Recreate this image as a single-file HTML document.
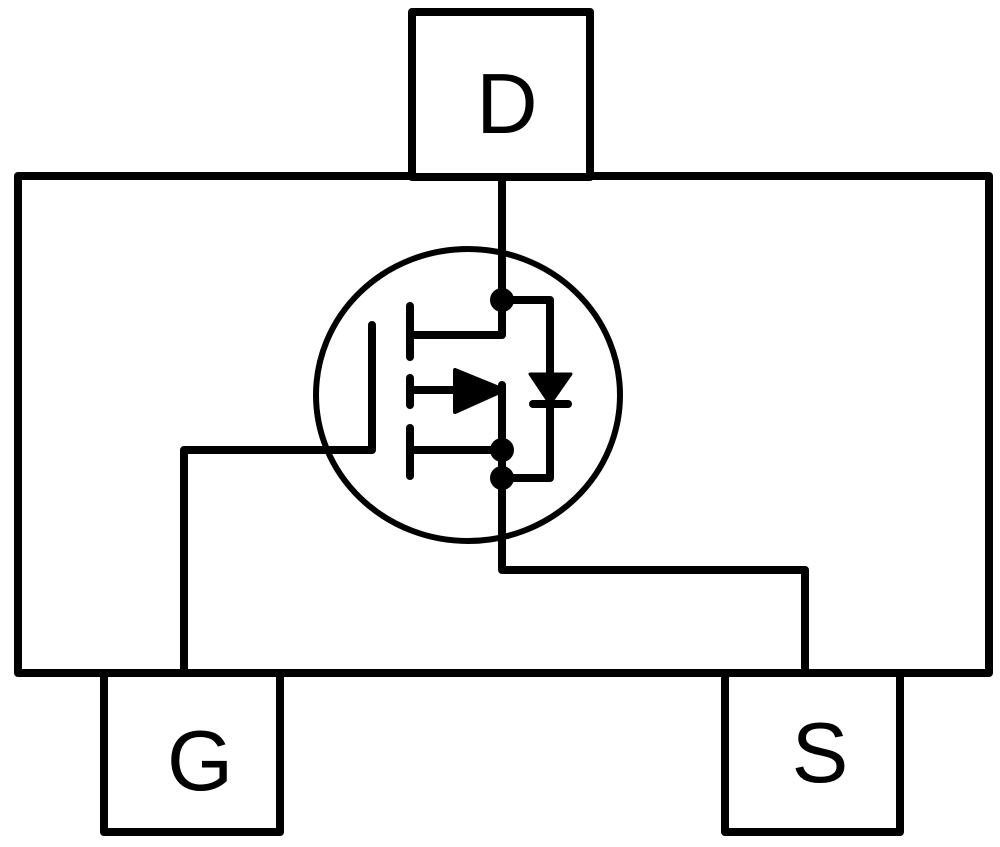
<!DOCTYPE html>
<html><head><style>html,body{margin:0;padding:0;background:#fff;}svg{display:block;}</style></head>
<body>
<svg width="1000" height="847" viewBox="0 0 1000 847" xmlns="http://www.w3.org/2000/svg">
<rect width="1000" height="847" fill="#fff"/>
<g fill="none" stroke="#000" stroke-width="8" stroke-linejoin="round" stroke-linecap="round">
<rect x="18" y="176" width="971" height="497"/>
<rect x="412" y="12" width="178" height="165" fill="#fff"/>
<rect x="104" y="673" width="176" height="159" fill="#fff"/>
<rect x="725" y="673" width="175" height="159" fill="#fff"/>
<ellipse cx="468" cy="395" rx="152" ry="146" stroke-width="6"/>
<path d="M502 177 V335 H410"/>
<path d="M502 300 H550 V478 H502"/>
<path d="M502 390 H410"/>
<path d="M502 385 V570 H805 V673"/>
<path d="M502 450 H410"/>
<path d="M372 325 V450 H184 V673"/>
<path d="M410 306 V357 M410 378 V405 M410 428 V476"/>
<path d="M533 404 H568"/>
</g>
<polygon points="455,370 455,412 504,390" fill="#000" stroke="#000" stroke-width="4" stroke-linejoin="round"/>
<polygon points="530,374 571,374 550,404" fill="#000" stroke="#000" stroke-width="3" stroke-linejoin="round"/>
<circle cx="502" cy="300" r="12" fill="#000"/>
<circle cx="502" cy="450" r="12" fill="#000"/>
<circle cx="502" cy="478" r="12" fill="#000"/>
<g font-family="Liberation Sans, sans-serif" font-size="85" text-anchor="middle" fill="#000">
<text x="507" y="133">D</text>
<text x="200" y="790">G</text>
<text x="820" y="782">S</text>
</g>
</svg>
</body></html>
